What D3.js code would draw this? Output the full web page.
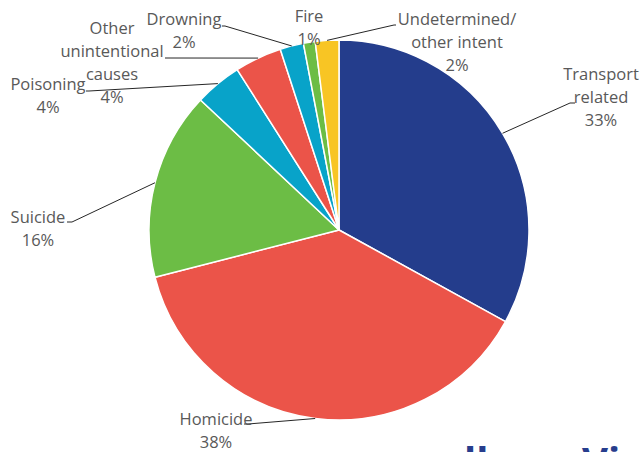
<!DOCTYPE html>
<html><head><meta charset="utf-8">
<script src="https://cdn.jsdelivr.net/npm/d3@7"></script>
<style>body{margin:0;background:#fff}svg{display:block}</style>
</head><body>
<svg id="c" width="641" height="452"></svg>
<script>
// Data
const categories = ["Transport related","Homicide","Suicide","Poisoning","Other unintentional causes","Drowning","Fire","Undetermined/ other intent"];
const values = [33,38,16,4,4,2,1,2];
const labelLines = [["Transport","related","33%"],["Homicide","38%"],["Suicide","16%"],["Poisoning","4%"],["Other","unintentional","causes","4%"],["Drowning","2%"],["Fire","1%"],["Undetermined/","other intent","2%"]];
const colors = ["#243d8c","#eb5449","#6cbd45","#08a3c9","#eb5449","#08a3c9","#6cbd45","#f8c524"];

// Layout (label anchor positions, leader elbows)
const cx = 339, cy = 230, R = 190;
const labelPos = [
  {x:601,y:80, line:[[570,103],[575,103]]},
  {x:216,y:425, line:[[248,424],[244,424]]},
  {x:38,y:223, line:[[72,222],[67,222]]},
  {x:48,y:90, line:[[89,91],[86,91]]},
  {x:112,y:34, line:[[166,58],[165,58]]},
  {x:184,y:25, line:[[225,26],[222,26]]},
  {x:309,y:22, line:null},
  {x:457,y:25, line:[[394,25],[396,25]]}
];
const lh = 23;

const svg = d3.select("#c");
const g = svg.append("g").attr("transform",`translate(${cx},${cy})`);
const pie = d3.pie().sort(null).value(d=>d)(values);
const arc = d3.arc().innerRadius(0).outerRadius(R);
g.selectAll("path.s").data(pie).enter().append("path")
  .attr("d",arc).attr("fill",(d,i)=>colors[i])
  .attr("stroke","#fff").attr("stroke-width",1.5).attr("stroke-linejoin","round");

// leader lines
pie.forEach((d,i)=>{
  const lp = labelPos[i];
  if(!lp.line) return;
  const a = (d.startAngle+d.endAngle)/2;
  const p0 = [cx+R*Math.sin(a), cy-R*Math.cos(a)];
  const pts = [p0, ...lp.line];
  svg.append("path").attr("d", d3.line()(pts)).attr("fill","none")
    .attr("stroke","#262626").attr("stroke-width",1);
});

// labels
labelLines.forEach((lines,i)=>{
  const lp = labelPos[i];
  const t = svg.append("text").attr("text-anchor","middle")
    .attr("font-family","'Open Sans', 'Noto Sans', sans-serif").attr("font-size",16.5)
    .attr("fill","#595959");
  lines.forEach((s,k)=>t.append("tspan").attr("x",lp.x).attr("y",lp.y+k*lh).text(s));
});

// partially visible heading at bottom
const heading = [{t:"o",x:400},{t:"ll",x:464},{t:"Vi",x:582}];
heading.forEach(h=>svg.append("text").attr("x",h.x).attr("y",476)
  .attr("font-family","'Open Sans', sans-serif").attr("font-weight","bold").attr("font-size",40)
  .attr("fill","#273d8d").text(h.t));
</script>
</body></html>
